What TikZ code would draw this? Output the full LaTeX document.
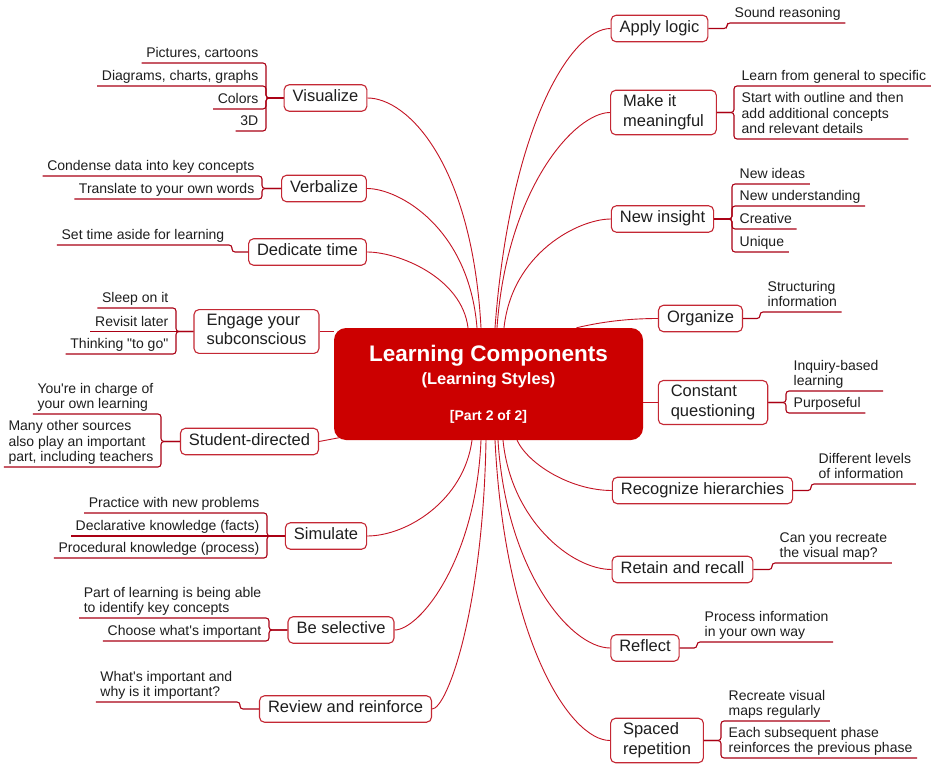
\documentclass[tikz,border=0pt]{standalone}
\usepackage{fontspec}
\setmainfont{Liberation Sans}[Ligatures=TeXOff]
\usetikzlibrary{backgrounds}
\definecolor{hubred}{RGB}{204,0,0}
\definecolor{boxred}{RGB}{196,40,52}
\definecolor{linkred}{RGB}{196,20,36}
\definecolor{leafred}{RGB}{170,0,20}
\definecolor{ink}{RGB}{30,30,30}
\begin{document}
\begin{tikzpicture}[x=1pt,y=-1pt,
  hub/.style={fill=hubred,rounded corners=12pt,text=white,align=center,minimum width=309pt,minimum height=112pt,font=\fontsize{16}{23}\selectfont\bfseries},
  topic/.style={draw=boxred,fill=white,line width=1.1pt,rounded corners=5pt,text=ink,align=left,inner xsep=8.5pt,inner ysep=4.5pt,minimum height=26.5pt,text depth=4pt,font=\fontsize{16.5}{19.5}\selectfont},
  topic2/.style={topic,inner xsep=12.5pt},
  leafr/.style={anchor=south west,text=ink,align=left,inner xsep=4.5pt,inner ysep=1.5pt,text depth=3.5pt,font=\fontsize{14}{15.5}\selectfont},
  leafl/.style={leafr,anchor=south east},
  link/.style={draw=linkred,line width=0.9pt},
  twig/.style={draw=leafred,line width=1.1pt,rounded corners=3pt}]
\useasboundingbox (0,0) rectangle (937,768);

\node[hub] (hub) at (488.5,384) {{\fontsize{22.5}{27}\selectfont Learning Components}\\{\fontsize{16.5}{20}\selectfont (Learning Styles)}\\[13pt]{\fontsize{14}{17}\selectfont [Part 2 of 2]}};

\node[topic] (app) at (659.5,28.5) {Apply logic};
\node[topic2] (mea) at (663.5,112.5) {Make it\\meaningful};
\node[topic] (ins) at (662.5,219) {New insight};
\node[topic] (org) at (700.5,318.5) {Organize};
\node[topic2] (con) at (713,402.5) {Constant\\questioning};
\node[topic] (rec) at (702.5,490.5) {Recognize hierarchies};
\node[topic] (ret) at (682.5,569.5) {Retain and recall};
\node[topic] (ref) at (645,648) {Reflect};
\node[topic2] (spa) at (657,740.5) {Spaced\\repetition};
\node[topic] (vis) at (325.5,98) {Visualize};
\node[topic] (verb) at (324,188.5) {Verbalize};
\node[topic] (ded) at (307.5,252) {Dedicate time};
\node[topic2] (eng) at (256.5,331.5) {Engage your\\subconscious};
\node[topic] (stu) at (249.5,441.5) {Student-directed};
\node[topic] (sim) at (326,536) {Simulate};
\node[topic] (sel) at (341,630) {Be selective};
\node[topic] (rev) at (345.5,709) {Review and reinforce};

\node[leafr] (a1) at (730,23) {Sound reasoning};
\node[leafr] (m1) at (737,86) {Learn from general to specific};
\node[leafr] (m2) at (737,139) {Start with outline and then\\add additional concepts\\and relevant details};
\node[leafr] (i1) at (735,184) {New ideas};
\node[leafr] (i2) at (735,206) {New understanding};
\node[leafr] (i3) at (735,229) {Creative};
\node[leafr] (i4) at (735,252) {Unique};
\node[leafr] (o1) at (763,312) {Structuring\\information};
\node[leafr] (c1) at (789,391) {Inquiry-based\\learning};
\node[leafr] (c2) at (789,413) {Purposeful};
\node[leafr] (r1) at (814,484) {Different levels\\of information};
\node[leafr] (t1) at (775,563) {Can you recreate\\the visual map?};
\node[leafr] (f1) at (700,642) {Process information\\in your own way};
\node[leafr] (s1) at (724,721) {Recreate visual\\maps regularly};
\node[leafr] (s2) at (724,758) {Each subsequent phase\\reinforces the previous phase};

\node[leafl] (v1) at (263,63) {Pictures, cartoons};
\node[leafl] (v2) at (263,86) {Diagrams, charts, graphs};
\node[leafl] (v3) at (263,109) {Colors};
\node[leafl] (v4) at (263,131) {3D};
\node[leafl] (b1) at (259,176) {Condense data into key concepts};
\node[leafl] (b2) at (259,199) {Translate to your own words};
\node[leafl] (d1) at (229,245) {Set time aside for learning};
\node[leafl] (e1) at (173,308) {Sleep on it};
\node[leafl] (e2) at (173,331.5) {Revisit later};
\node[leafl] (e3) at (173,354) {Thinking "to go"};
\node[leafl] (u1) at (158,414) {You're in charge of\\your own learning};
\node[leafl] (u2) at (158,467) {Many other sources\\also play an important\\part, including teachers};
\node[leafl] (p1) at (264,513) {Practice with new problems};
\node[leafl] (p2) at (264,536) {Declarative knowledge (facts)};
\node[leafl] (p3) at (264,558) {Procedural knowledge (process)};
\node[leafl] (l1) at (266,618) {Part of learning is being able\\to identify key concepts};
\node[leafl] (l2) at (266,641) {Choose what's important};
\node[leafl] (w1) at (237,702) {What's important and\\why is it important?};

\begin{scope}[on background layer]
\fill[white] (0,0) rectangle (937,768);
\draw[link] (vis.east) .. controls +(40,0) and +(-9,-165) .. ([xshift=-7.5pt]hub.north);
\draw[link] (verb.east) .. controls +(32,0) and +(-8,-100) .. ([xshift=-11.5pt]hub.north);
\draw[link] (ded.east) .. controls +(32,0) and +(-6,-50) .. ([xshift=-20.5pt]hub.north);
\draw[link] (app.west) .. controls +(-40,0) and +(15,-200) .. ([xshift=6.5pt]hub.north);
\draw[link] (mea.west) .. controls +(-35,0) and +(10,-140) .. ([xshift=8.5pt]hub.north);
\draw[link] (ins.west) .. controls +(-32,0) and +(8,-75) .. ([xshift=15.5pt]hub.north);
\draw[link] ([xshift=88pt]hub.north) .. controls +(25,-6) and +(-30,0) .. (org.west);
\draw[link] (eng.east) -- (eng.east -| hub.west);
\draw[link] (stu.east) -- ([xshift=8pt,yshift=3pt]hub.south west);
\draw[link] (con.west) -- (con.west -| hub.east);
\draw[link] (sim.east) .. controls +(40,0) and +(-8,60) .. ([xshift=-16.5pt]hub.south);
\draw[link] (sel.east) .. controls +(25,0) and +(-5,120) .. ([xshift=-7.5pt]hub.south);
\draw[link] (rev.east) .. controls +(15,0) and +(-3,170) .. ([xshift=-2.5pt]hub.south);
\draw[link] (spa.west) .. controls +(-40,0) and +(10,200) .. ([xshift=6.5pt]hub.south);
\draw[link] (ref.west) .. controls +(-40,0) and +(8,130) .. ([xshift=9.5pt]hub.south);
\draw[link] (ret.west) .. controls +(-40,0) and +(8,80) .. ([xshift=14.5pt]hub.south);
\draw[link] (rec.west) .. controls +(-40,0) and +(12,25) .. ([xshift=28.5pt]hub.south);
\end{scope}

\draw[twig] (app.east) -| ([xshift=-3pt]a1.south west) -- (a1.south east);
\draw[twig] (mea.east) -| ([xshift=-3pt]m1.south west) -- (m1.south east);
\draw[twig] (mea.east) -| ([xshift=-3pt]m2.south west) -- (m2.south east);
\draw[twig] (ins.east) -| ([xshift=-3pt]i1.south west) -- (i1.south east);
\draw[twig] (ins.east) -| ([xshift=-3pt]i2.south west) -- (i2.south east);
\draw[twig] (ins.east) -| ([xshift=-3pt]i3.south west) -- (i3.south east);
\draw[twig] (ins.east) -| ([xshift=-3pt]i4.south west) -- (i4.south east);
\draw[twig] (org.east) -| ([xshift=-3pt]o1.south west) -- (o1.south east);
\draw[twig] (con.east) -| ([xshift=-3pt]c1.south west) -- (c1.south east);
\draw[twig] (con.east) -| ([xshift=-3pt]c2.south west) -- (c2.south east);
\draw[twig] (rec.east) -| ([xshift=-3pt]r1.south west) -- (r1.south east);
\draw[twig] (ret.east) -| ([xshift=-3pt]t1.south west) -- (t1.south east);
\draw[twig] (ref.east) -| ([xshift=-3pt]f1.south west) -- (f1.south east);
\draw[twig] (spa.east) -| ([xshift=-3pt]s1.south west) -- (s1.south east);
\draw[twig] (spa.east) -| ([xshift=-3pt]s2.south west) -- (s2.south east);

\draw[twig] (vis.west) -| ([xshift=3pt]v1.south east) -- (v1.south west);
\draw[twig] (vis.west) -| ([xshift=3pt]v2.south east) -- (v2.south west);
\draw[twig] (vis.west) -| ([xshift=3pt]v3.south east) -- (v3.south west);
\draw[twig] (vis.west) -| ([xshift=3pt]v4.south east) -- (v4.south west);
\draw[twig] (verb.west) -| ([xshift=3pt]b1.south east) -- (b1.south west);
\draw[twig] (verb.west) -| ([xshift=3pt]b2.south east) -- (b2.south west);
\draw[twig] (ded.west) -| ([xshift=3pt]d1.south east) -- (d1.south west);
\draw[twig] (eng.west) -| ([xshift=3pt]e1.south east) -- (e1.south west);
\draw[twig] (eng.west) -- (e2.south west);
\draw[twig] (eng.west) -| ([xshift=3pt]e3.south east) -- (e3.south west);
\draw[twig] (stu.west) -| ([xshift=3pt]u1.south east) -- (u1.south west);
\draw[twig] (stu.west) -| ([xshift=3pt]u2.south east) -- (u2.south west);
\draw[twig] (sim.west) -| ([xshift=3pt]p1.south east) -- (p1.south west);
\draw[twig] (sim.west) -- (p2.south west);
\draw[twig] (sim.west) -| ([xshift=3pt]p3.south east) -- (p3.south west);
\draw[twig] (sel.west) -| ([xshift=3pt]l1.south east) -- (l1.south west);
\draw[twig] (sel.west) -| ([xshift=3pt]l2.south east) -- (l2.south west);
\draw[twig] (rev.west) -| ([xshift=3pt]w1.south east) -- (w1.south west);
\end{tikzpicture}
\end{document}
